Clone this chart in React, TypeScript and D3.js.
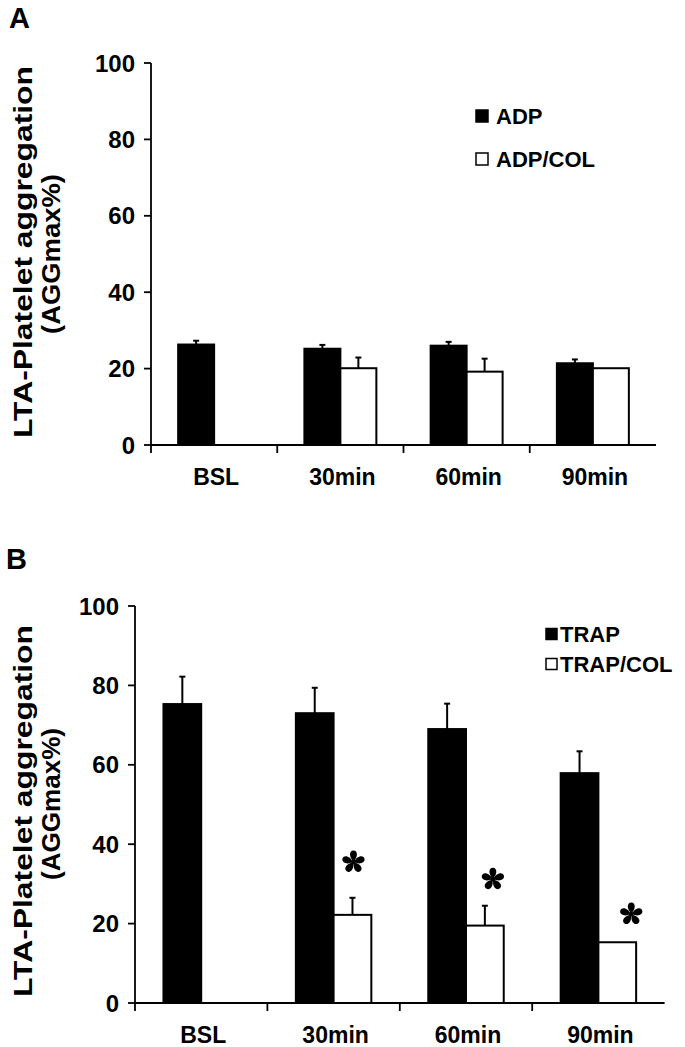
import React, { useEffect } from "react";
import * as d3 from "d3";

const categories = ["BSL", "30min", "60min", "90min"];
const yTicks = [0, 20, 40, 60, 80, 100];

// Panel A
const adpMean = [26.3, 25.2, 26.0, 21.4];
const adpErr = [1.0, 1.0, 1.0, 1.0];
const adpColMean: (number | null)[] = [null, 20.1, 19.2, 20.1];
const adpColErr: (number | null)[] = [null, 2.8, 3.4, 0];

// Panel B
const trapMean = [75.3, 73.0, 69.0, 57.9];
const trapErr = [6.9, 6.4, 6.4, 5.5];
const trapColMean: (number | null)[] = [null, 22.2, 19.5, 15.3];
const trapColErr: (number | null)[] = [null, 4.3, 5.0, 0];

// significance markers (category, height in axis units)
const sigCategories = ["30min", "60min", "90min"];
const sigLevels = [35.5, 31.2, 22.4];

const FONT = "'Liberation Sans', Arial, Helvetica, sans-serif";

type PanelProps = {
  letter: string;
  letterY: number;
  x0: number;
  x1: number;
  yTop: number;
  yBottom: number;
  s1: { name: string; mean: (number | null)[]; err: (number | null)[] };
  s2: { name: string; mean: (number | null)[]; err: (number | null)[] };
  legend: { x: number; y1: number; y2: number; textX: number; sq: number };
  labelCenter1: number;
  labelCenter2: number;
  label2Len: number;
  sig?: boolean;
  sigDx?: number[];
};

const petal = "M0,-1 C-4.4,-4 -4.8,-11.5 0,-11.5 C4.8,-11.5 4.4,-4 0,-1 Z";

function Asterisk({ x, y }: { x: number; y: number }) {
  return (
    <g transform={`translate(${x},${y})`}>
      {[0, 1, 2, 3, 4].map((k) => (
        <path key={k} d={petal} transform={`rotate(${k * 72})`} fill="#000" />
      ))}
      <circle r={2.4} fill="#000" />
    </g>
  );
}

function Panel(p: PanelProps) {
  const x = d3.scaleBand<string>().domain(categories).range([p.x0, p.x1]).padding(0);
  const bw = x.bandwidth();
  const inner = d3
    .scaleBand<string>()
    .domain([p.s1.name, p.s2.name])
    .range([bw * 0.215, bw * 0.785])
    .padding(0);
  const y = d3.scaleLinear().domain([0, 100]).range([p.yBottom, p.yTop]);
  const barW = inner.bandwidth();
  const series = [
    { ...p.s1, fill: "#000" },
    { ...p.s2, fill: "#fff" },
  ];
  const tickBoundaries = categories.map((c) => x(c)!);

  return (
    <g>
      <text x={p.letter === "A" ? 9 : 6} y={p.letterY} fontFamily={FONT} fontWeight="bold" fontSize={29}>
        {p.letter}
      </text>
      {/* y label */}
      <text
        transform={`translate(23,${p.labelCenter1}) rotate(-90)`}
        textAnchor="middle"
        dominantBaseline="central"
        fontFamily={FONT}
        fontWeight="bold"
        fontSize={25}
        textLength={372}
        lengthAdjust="spacingAndGlyphs"
      >
        LTA-Platelet aggregation
      </text>
      <text
        transform={`translate(51,${p.labelCenter2}) rotate(-90)`}
        textAnchor="middle"
        dominantBaseline="central"
        fontFamily={FONT}
        fontWeight="bold"
        fontSize={25}
        textLength={p.label2Len}
        lengthAdjust="spacingAndGlyphs"
      >
        (AGGmax%)
      </text>

      {/* bars */}
      {series.map((s) =>
        categories.map((c, i) => {
          const v = s.mean[i];
          if (v == null) return null;
          const bx = x(c)! + inner(s.name)!;
          const top = y(v);
          const e = s.err[i] ?? 0;
          const cx = bx + barW / 2;
          return (
            <g key={s.name + c}>
              <rect
                x={bx}
                y={top}
                width={barW}
                height={y(0) - top}
                fill={s.fill}
                stroke="#000"
                strokeWidth={2}
              />
              {e > 0 && (
                <g stroke="#000" strokeWidth={2}>
                  <line x1={cx} x2={cx} y1={top} y2={y(v + e)} />
                  <line x1={cx - 3} x2={cx + 3} y1={y(v + e)} y2={y(v + e)} />
                </g>
              )}
            </g>
          );
        })
      )}

      {/* axes */}
      <g stroke="#000" strokeWidth={1.8}>
        <line x1={p.x0} x2={p.x0} y1={p.yTop} y2={p.yBottom} />
        <line x1={p.x0} x2={p.x1} y1={p.yBottom} y2={p.yBottom} />
        {yTicks.map((t) => (
          <line key={t} x1={p.x0 - 7} x2={p.x0} y1={y(t)} y2={y(t)} />
        ))}
        {tickBoundaries.map((tx, i) => (
          <line key={i} x1={tx} x2={tx} y1={p.yBottom} y2={p.yBottom + 8} />
        ))}
      </g>
      {yTicks.map((t) => (
        <text
          key={t}
          x={p.x0 - 16}
          y={y(t)}
          textAnchor="end"
          dominantBaseline="central"
          fontFamily={FONT}
          fontWeight="bold"
          fontSize={24}
        >
          {t}
        </text>
      ))}
      {categories.map((c) => (
        <text
          key={c}
          x={x(c)! + bw / 2 + 2}
          y={p.yBottom + 40}
          textAnchor="middle"
          fontFamily={FONT}
          fontWeight="bold"
          fontSize={23}
        >
          {c}
        </text>
      ))}

      {/* legend */}
      <rect x={p.legend.x} y={p.legend.y1 - p.legend.sq / 2} width={p.legend.sq} height={p.legend.sq} fill="#000" stroke="#000" strokeWidth={1.5} />
      <text x={p.legend.textX} y={p.legend.y1} dominantBaseline="central" fontFamily={FONT} fontWeight="bold" fontSize={22}>
        {p.s1.name}
      </text>
      <rect x={p.legend.x} y={p.legend.y2 - p.legend.sq / 2} width={p.legend.sq} height={p.legend.sq} fill="#fff" stroke="#000" strokeWidth={1.5} />
      <text x={p.legend.textX} y={p.legend.y2} dominantBaseline="central" fontFamily={FONT} fontWeight="bold" fontSize={22}>
        {p.s2.name}
      </text>

      {p.sig &&
        sigCategories.map((c, i) => (
          <Asterisk
            key={c}
            x={x(c)! + inner(p.s2.name)! + barW / 2 + (p.sigDx ? p.sigDx[i] : 0)}
            y={y(sigLevels[i])}
          />
        ))}
    </g>
  );
}

export default function App() {
  useEffect(() => {
    document.body.style.margin = "0";
  }, []);
  return (
    <svg width={685} height={1047} style={{ display: "block", background: "#fff" }}>
      <rect width={685} height={1047} fill="#fff" />
      <Panel
        letter="A"
        letterY={28}
        x0={151}
        x1={656}
        yTop={63}
        yBottom={445}
        s1={{ name: "ADP", mean: adpMean, err: adpErr }}
        s2={{ name: "ADP/COL", mean: adpColMean, err: adpColErr }}
        legend={{ x: 476, y1: 116, y2: 159, textX: 496, sq: 12 }}
        labelCenter1={252}
        labelCenter2={254}
        label2Len={160}
      />
      <Panel
        letter="B"
        letterY={569}
        x0={135}
        x1={664.6}
        yTop={606}
        yBottom={1003}
        s1={{ name: "TRAP", mean: trapMean, err: trapErr }}
        s2={{ name: "TRAP/COL", mean: trapColMean, err: trapColErr }}
        legend={{ x: 546, y1: 634, y2: 664, textX: 560, sq: 11 }}
        labelCenter1={811}
        labelCenter2={804}
        label2Len={152}
        sig
        sigDx={[1, 8, 14]}
      />
    </svg>
  );
}
